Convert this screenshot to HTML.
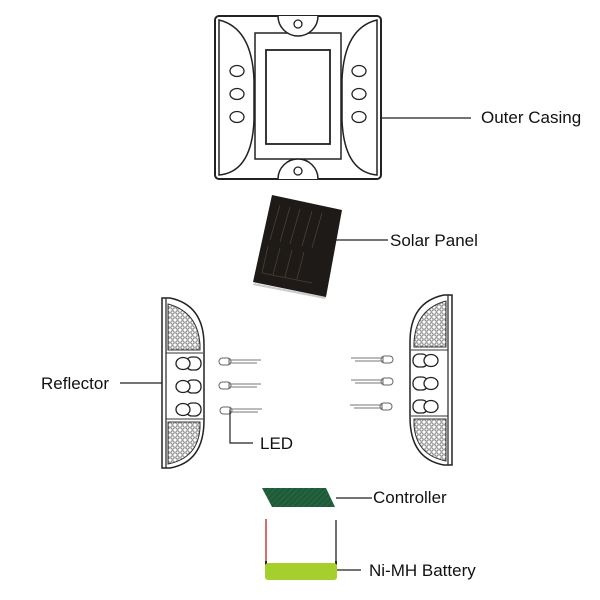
<!DOCTYPE html>
<html><head><meta charset="utf-8"><style>
html,body{margin:0;padding:0;background:#fff;}
svg{display:block;}
text{font-family:"Liberation Sans",Arial,sans-serif;font-size:17px;fill:#111;}
</style></head><body>
<svg width="600" height="600" viewBox="0 0 600 600" xmlns="http://www.w3.org/2000/svg">
<defs>
<pattern id="hatch" width="5" height="5" patternUnits="userSpaceOnUse">
<rect width="5" height="5" fill="#fff"/>
<circle cx="2.5" cy="2.5" r="1.7" fill="none" stroke="#777" stroke-width="1"/>
</pattern>
<pattern id="pcb" width="4" height="4" patternUnits="userSpaceOnUse" patternTransform="rotate(45)">
<rect width="4" height="4" fill="#1f5b38"/>
<line x1="0" y1="0" x2="0" y2="4" stroke="#2f7a4c" stroke-width="1"/>
</pattern>
<g id="refl">
<path d="M162,298 L170,298 Q204,305 204,345 L204,420 Q204,462 170,468 L162,468 Z" fill="#fff" stroke="#222" stroke-width="1.5"/>
<line x1="166" y1="298" x2="166" y2="468" stroke="#222" stroke-width="1.2"/>
<path d="M168,304 Q198,312 200,345 L200,350 L168,350 Z" fill="url(#hatch)" stroke="#333" stroke-width="1"/>
<path d="M168,422 L200,422 L200,428 Q198,458 168,464 Z" fill="url(#hatch)" stroke="#333" stroke-width="1"/>
<line x1="166" y1="353" x2="203" y2="353" stroke="#333"/>
<line x1="166" y1="419" x2="203" y2="419" stroke="#333"/>
<g fill="#fff" stroke="#222" stroke-width="1.3">
<rect x="186" y="357" width="15" height="13" rx="6"/><ellipse cx="183" cy="363.5" rx="7" ry="6"/>
<rect x="186" y="380" width="15" height="13" rx="6"/><ellipse cx="183" cy="386.5" rx="7" ry="6"/>
<rect x="186" y="403" width="15" height="13" rx="6"/><ellipse cx="183" cy="409.5" rx="7" ry="6"/>
</g>
</g>
<g id="led">
<rect x="219" y="358" width="12" height="7" rx="3.5" fill="#fff" stroke="#666" stroke-width="1"/>
<line x1="229" y1="358" x2="229" y2="365" stroke="#666"/>
<line x1="229" y1="360" x2="261" y2="360" stroke="#777"/>
<line x1="229" y1="363" x2="257" y2="363" stroke="#777"/>
</g>
</defs>

<rect x="215" y="16" width="166" height="163" rx="4" fill="#fff" stroke="#222" stroke-width="2"/>
<path d="M219,20 Q252,28 254,80 L254,120 Q252,172 219,175 Z" fill="none" stroke="#222" stroke-width="1.5"/>
<path d="M377,20 Q344,28 342,80 L342,120 Q344,172 377,175 Z" fill="none" stroke="#222" stroke-width="1.5"/>
<rect x="255" y="33" width="86" height="126" fill="none" stroke="#222" stroke-width="1.5"/>
<rect x="266" y="50" width="64" height="94" fill="none" stroke="#222" stroke-width="1.8"/>
<path d="M278,16 A20,20 0 0 0 318,16" fill="#fff" stroke="#222" stroke-width="1.5"/>
<circle cx="298" cy="24" r="4" fill="none" stroke="#222" stroke-width="1.3"/>
<path d="M278,179 A20,20 0 0 1 318,179" fill="#fff" stroke="#222" stroke-width="1.5"/>
<circle cx="298" cy="171" r="4" fill="none" stroke="#222" stroke-width="1.3"/>
<g fill="none" stroke="#222" stroke-width="1.3">
<ellipse cx="237" cy="71" rx="7" ry="5.5"/><ellipse cx="237" cy="94" rx="7" ry="5.5"/><ellipse cx="237" cy="117" rx="7" ry="5.5"/>
<ellipse cx="359" cy="71" rx="7" ry="5.5"/><ellipse cx="359" cy="94" rx="7" ry="5.5"/><ellipse cx="359" cy="117" rx="7" ry="5.5"/>
</g>
<line x1="381" y1="118" x2="471" y2="118" stroke="#222" stroke-width="1.3"/>
<text x="481" y="123">Outer Casing</text>

<polygon points="254,283 326,297 325,299 253,285" fill="#ccc"/>
<polygon points="272,195 342,210 326,297 253,282" fill="#1e1a17"/>
<g stroke="#4a4035" stroke-width="0.8">
<line x1="280" y1="205" x2="270" y2="240"/><line x1="290" y1="207" x2="280" y2="242"/>
<line x1="300" y1="209" x2="290" y2="244"/><line x1="312" y1="211" x2="302" y2="246"/>
<line x1="322" y1="213" x2="312" y2="248"/>
<line x1="268" y1="246" x2="262" y2="273"/><line x1="280" y1="248" x2="273" y2="275"/>
<line x1="292" y1="250" x2="285" y2="277"/><line x1="304" y1="252" x2="297" y2="279"/>
<line x1="262" y1="273" x2="312" y2="283"/>
</g>
<line x1="336" y1="240" x2="388" y2="240" stroke="#222" stroke-width="1.2"/>
<text x="390" y="246">Solar Panel</text>

<use href="#refl"/>
<use href="#refl" transform="translate(614,-3) scale(-1,1)"/>
<line x1="120" y1="383" x2="162" y2="383" stroke="#222" stroke-width="1.2"/>
<text x="41" y="389">Reflector</text>

<use href="#led"/>
<use href="#led" transform="translate(0,24)"/>
<use href="#led" transform="translate(1,49)"/>
<use href="#led" transform="translate(612,-2) scale(-1,1)"/>
<use href="#led" transform="translate(612,20) scale(-1,1)"/>
<use href="#led" transform="translate(611,45) scale(-1,1)"/>
<polyline points="230,410 230,443 253,443" fill="none" stroke="#222" stroke-width="1.2"/>
<text x="260" y="449">LED</text>

<polygon points="262,488 326,488 335,507 272,507" fill="url(#pcb)"/>
<line x1="336" y1="498" x2="372" y2="498" stroke="#222" stroke-width="1.2"/>
<text x="373" y="503">Controller</text>

<line x1="266" y1="519" x2="266" y2="562" stroke="#c41e1e" stroke-width="1.3"/>
<line x1="336" y1="520" x2="336" y2="562" stroke="#222" stroke-width="1.3"/>
<rect x="265" y="561" width="2" height="4" fill="#222"/>
<rect x="335" y="561" width="2" height="4" fill="#222"/>
<rect x="265" y="563" width="72" height="17" rx="3" fill="#a4cf2c"/>
<line x1="337" y1="570" x2="361" y2="570" stroke="#222" stroke-width="1.2"/>
<text x="369" y="576">Ni-MH Battery</text>
</svg>
</body></html>
